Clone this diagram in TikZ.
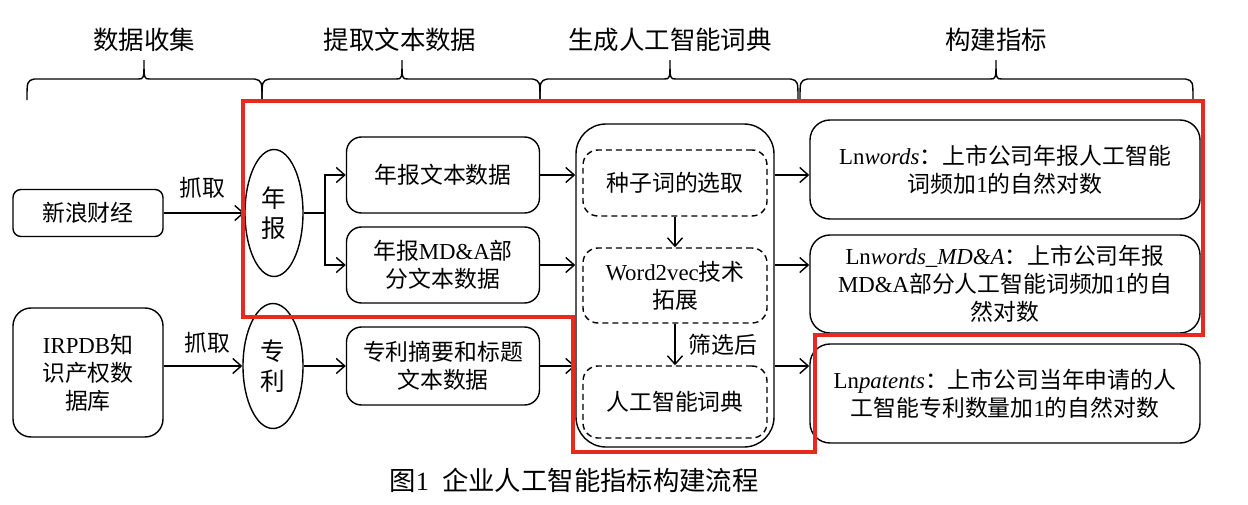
\documentclass[tikz,border=0pt]{standalone}
\usepackage{fontspec}
\setmainfont{Noto Sans CJK SC}
\newfontfamily\tmfont{Liberation Serif}
\newcommand\tm[1]{{\tmfont #1}}
\newcommand\tmi[1]{{\tmfont\itshape #1}}
\usetikzlibrary{shapes.geometric,arrows.meta}
\definecolor{markred}{RGB}{232,42,30}
% brace over one stage: left, tip, right
\def\stagebrace(#1:#2:#3){\draw[line width=0.8pt] (#1,-2) .. controls (#1,-1.62) .. (#1+0.15,-1.58) -- (#2-0.12,-1.58) .. controls (#2,-1.58) .. (#2,-1.2) .. controls (#2,-1.58) .. (#2+0.12,-1.58) -- (#3-0.15,-1.58) .. controls (#3,-1.62) .. (#3,-2);}

\tikzset{
	rbox/.style={draw, rounded corners=0.3cm, line width=0.8pt, align=center, inner sep=0pt, font=\fontsize{13}{16}\selectfont},
	oval/.style={draw, ellipse, line width=0.8pt, inner sep=0pt, align=center, font=\fontsize{14}{17}\selectfont},
	dbox/.style={rbox, dashed, dash pattern=on 3.4pt off 2.3pt},
	flow/.style={-{Straight Barb[length=1.7mm,width=3mm]}, line width=0.8pt},
	head/.style={font=\fontsize{14.5}{17}\selectfont},
	lbl/.style={font=\fontsize{13}{16}\selectfont},
}

\begin{document}
\begin{tikzpicture}
	\useasboundingbox (0,0) rectangle (24.96,-10.1);
	
	% stages
	\node[head] (h1) at (2.88,-0.8) {数据收集};
	\node[head] (h2) at (8.0,-0.8) {提取文本数据};
	\node[head] (h3) at (13.4,-0.8) {生成人工智能词典};
	\node[head] (h4) at (19.92,-0.8) {构建指标};
	\stagebrace(0.54:2.88:5.24)
	\stagebrace(5.24:8.04:10.8)
	\stagebrace(10.8:13.4:15.96)
	\stagebrace(16.0:19.92:23.86)
	
	% sources
	\node[rbox, rounded corners=0.16cm, minimum width=3cm, minimum height=0.94cm] (sina) at (1.76,-4.26) {新浪财经};
	\node[rbox, rounded corners=0.36cm, minimum width=3cm, minimum height=2.58cm] (irpdb) at (1.76,-7.45) {\tm{IRPDB}知\\识产权数\\据库};
	\node[oval, minimum width=1.16cm, minimum height=2.54cm] (nianbao) at (5.48,-4.26) {年\\报};
	\node[oval, minimum width=1.2cm, minimum height=2.5cm] (zhuanli) at (5.46,-7.32) {专\\利};
	\node[lbl] (grab1) at (4.04,-3.76) {抓取};
	\node[lbl] (grab2) at (4.14,-6.86) {抓取};
	
	% text data
	\node[rbox, minimum width=3.86cm, minimum height=1.52cm] (nbtext) at (8.86,-3.5) {年报文本数据};
	\node[rbox, minimum width=3.86cm, minimum height=1.52cm] (mdatext) at (8.86,-5.3) {年报\tm{MD\&A}部\\分文本数据};
	\node[rbox, minimum width=3.86cm, minimum height=1.56cm] (pttext) at (8.86,-7.32) {专利摘要和标题\\文本数据};
	
	% dictionary
	\node[rbox, rounded corners=0.6cm, minimum width=3.96cm, minimum height=6.46cm] (dict) at (13.5,-5.71) {};
	\node[dbox, minimum width=3.68cm, minimum height=1.32cm] (seed) at (13.5,-3.66) {种子词的选取};
	\node[dbox, minimum width=3.68cm, minimum height=1.5cm] (w2v) at (13.5,-5.71) {\tm{Word2vec}技术\\拓展};
	\node[dbox, minimum width=3.68cm, minimum height=1.44cm] (aidict) at (13.5,-8.04) {人工智能词典};
	\node[lbl] (filt) at (14.46,-6.9) {筛选后};
	
	% indicators
	\node[rbox, rounded corners=0.4cm, minimum width=7.8cm, minimum height=1.98cm] (ind1) at (20.1,-3.39) {\tm{Ln}\tmi{words}：上市公司年报人工智能\\词频加\tm{1}的自然对数};
	\node[rbox, rounded corners=0.4cm, minimum width=7.8cm, minimum height=1.96cm] (ind2) at (20.1,-5.68) {\tm{Ln}\tmi{words\_MD\&A}：上市公司年报\\\tm{MD\&A}部分人工智能词频加\tm{1}的自\\然对数};
	\node[rbox, rounded corners=0.4cm, minimum width=7.8cm, minimum height=1.98cm] (ind3) at (20.1,-7.87) {\tm{Ln}\tmi{patents}：上市公司当年申请的人\\工智能专利数量加\tm{1}的自然对数};
	
	% connectors
	\draw[flow] (sina.east) -- (nianbao.west);
	\draw[flow] (irpdb.east |- zhuanli.west) -- (zhuanli.west);
	\coordinate (fork) at (6.5,-4.26);
	\draw[line width=0.8pt] (nianbao.east) -- (fork);
	\draw[flow] (fork) |- (nbtext.west);
	\draw[flow] (fork) |- (mdatext.west);
	\draw[flow] (zhuanli.east) -- (pttext.west);
	\draw[flow] (nbtext.east) -- (nbtext.east -| dict.west);
	\draw[flow] (mdatext.east) -- (mdatext.east -| dict.west);
	\draw[flow] (pttext.east) -- (pttext.east -| dict.west);
	\draw[flow] (seed.south) -- (w2v.north);
	\draw[flow] (w2v.south) -- (aidict.north);
	\draw[flow] (nbtext.east -| dict.east) -- (nbtext.east -| ind1.west);
	\draw[flow] (mdatext.east -| dict.east) -- (mdatext.east -| ind2.west);
	\draw[flow] (pttext.east -| dict.east) -- (pttext.east -| ind3.west);
	
	% caption
	\node[font=\fontsize{15}{18}\selectfont] (cap) at (11.48,-9.6) {图\tm{1}\enspace 企业人工智能指标构建流程};
	
	% red mark
	\draw[markred, line width=2.3pt] (4.86,-2.02) -- (24.06,-2.02) -- (24.06,-6.7) -- (16.3,-6.7) -- (16.3,-9.04) -- (11.46,-9.04) -- (11.46,-6.34) -- (4.86,-6.34) -- cycle;
\end{tikzpicture}
\end{document}
